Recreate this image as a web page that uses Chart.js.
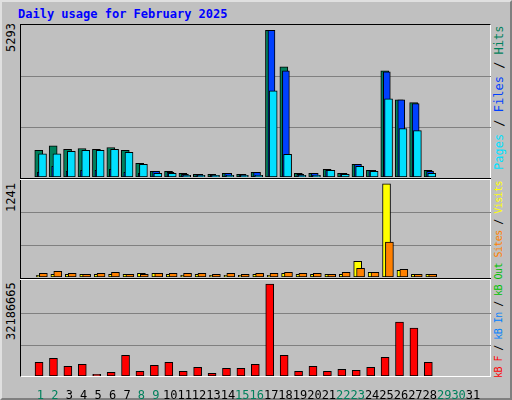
<!DOCTYPE html>
<html><head><meta charset="utf-8">
<script src="https://cdn.jsdelivr.net/npm/chart.js@4"></script>
<style>
body{margin:0;width:512px;height:400px;overflow:hidden;background:#c0c0c0;font-family:"DejaVu Sans Mono",monospace;}
#outer{position:absolute;left:0;top:0;width:508px;height:396px;border-top:2px solid #e0e0e0;border-left:2px solid #e0e0e0;border-right:2px solid #808080;border-bottom:2px solid #808080;}
#title{position:absolute;left:18px;top:7px;color:#0000ff;font-weight:bold;font-size:12px;}
#frame{position:absolute;left:20px;top:24px;width:469px;height:351px;border:1px solid #000;border-right-color:#fff;border-bottom-color:#fff;}
.sep{position:absolute;left:20px;width:471px;height:1px;background:#000;border-bottom:1px solid #fff;}
canvas{position:absolute;}
.lv{position:absolute;white-space:nowrap;transform-origin:0 0;transform:rotate(-90deg);font-size:12px;}
</style></head><body>
<div id="outer"></div>
<div id="title">Daily usage for February 2025</div>
<div id="frame"></div>
<div class="sep" style="top:178px"></div>
<div class="sep" style="top:278px"></div>
<div class="lv" style="left:4px;top:52px;font-size:12px">5293</div>
<div class="lv" style="left:4px;top:212px;font-size:12px">1241</div>
<div class="lv" style="left:4px;top:340px;font-size:12px">32186665</div>
<div class="lv" style="left:492px;top:170px;"><span style="color:#00e0ff">Pages</span> / <span style="color:#0040ff">Files</span> / <span style="color:#00805c">Hits</span></div>
<div class="lv" style="left:493px;top:378px;font-size:10px;letter-spacing:-0.55px"><span style="color:#ff0000">kB F</span> / <span style="color:#0080ff">kB In</span> / <span style="color:#00c000">kB Out</span> <span style="color:#ff8000">Sites</span> / <span style="color:#ffff00">Visits</span></div>
<canvas id="c1" width="470" height="152" style="left:21px;top:25px"></canvas>
<canvas id="c2" width="470" height="97" style="left:21px;top:180px"></canvas>
<canvas id="c3" width="470" height="119" style="left:21px;top:281px"></canvas>
<script>
const days=[1,2,3,4,5,6,7,8,9,10,11,12,13,14,15,16,17,18,19,20,21,22,23,24,25,26,27,28,29,30,31];
const hits=[958,1125,994,1030,994,1066,958,491,204,204,132,96,96,132,96,168,5293,3974,132,132,275,132,455,240,3830,2789,2681,240,0,0,0];
const files=[168,383,204,240,240,275,168,132,204,168,96,96,60,132,96,168,5293,3830,96,132,240,132,455,240,3794,2789,2645,204,0,0,0];
const pages=[838,838,922,958,958,994,886,455,132,132,60,60,60,60,60,60,3112,814,60,60,240,96,383,204,2825,1748,1676,132,0,0,0];
const visits=[22,36,36,36,36,36,36,49,49,36,22,36,22,22,22,36,22,49,36,36,36,36,210,62,1241,89,36,36,0,0,0];
const sites=[49,76,49,36,49,62,36,36,49,49,49,49,36,49,36,49,49,62,49,49,36,62,116,62,464,103,36,36,0,0,0];
const kbF=[4800000,6200000,3390000,4100000,590000,1290000,7260000,1640000,3750000,4800000,1640000,3040000,940000,2690000,2690000,4100000,32186665,7260000,1640000,3390000,1640000,2340000,1990000,3040000,6550000,18840000,16740000,4800000,0,0,0];
const weekend=[1,2,8,9,15,16,22,23,29,30];

const XMIN=0.175,XMAX=31.72;
function pts(arr,off){return days.map((d,i)=>({x:d+off,y:arr[i]}));}
function ds(arr,off,color,w,order){return {data:pts(arr,off),backgroundColor:color,borderColor:'#000',borderWidth:1,barThickness:w,grouped:false,order:order,borderSkipped:false};}
function yAxis(max){return {min:0,max:max,display:true,border:{display:false},ticks:{display:false},
  grid:{color:'#808080',lineWidth:1,drawTicks:false},
  afterFit:s=>{s.width=0;},
  afterBuildTicks:s=>{s.ticks=[{value:max*0.325},{value:max*0.66}];}};}
function xAxis(show){return {type:'linear',min:XMIN,max:XMAX,display:show,grid:{display:false},border:{display:false},
  afterBuildTicks:s=>{s.ticks=days.map(d=>({value:d}));},
  afterFit:s=>{if(show)s.height=24;},
  ticks:{padding:5,autoSkip:false,maxRotation:0,font:{family:'DejaVu Sans Mono',size:12},
    color:c=>weekend.includes(c.tick.value)?'#00805c':'#000',callback:v=>String(v)}};}
function mk(id,datasets,ymax,showX){
  new Chart(document.getElementById(id),{type:'bar',data:{datasets},
   options:{responsive:false,animation:false,layout:{padding:0},
    plugins:{legend:{display:false},tooltip:{enabled:false}},
    scales:{x:xAxis(showX),y:yAxis(ymax)}}});
}
mk('c1',[ds(hits,-0.12,'#00805c',8,3),ds(files,0.02,'#0040ff',7,2),ds(pages,0.14,'#00e0ff',8,1)],5293/0.965,false);
mk('c2',[ds(visits,0,'#ffff00',8,2),ds(sites,0.2,'#ff8000',8,1)],1241/0.96,false);
mk('c3',[ds(kbF,-0.1,'#ff0000',8,1)],32186665/0.968,true);
</script></body></html>
